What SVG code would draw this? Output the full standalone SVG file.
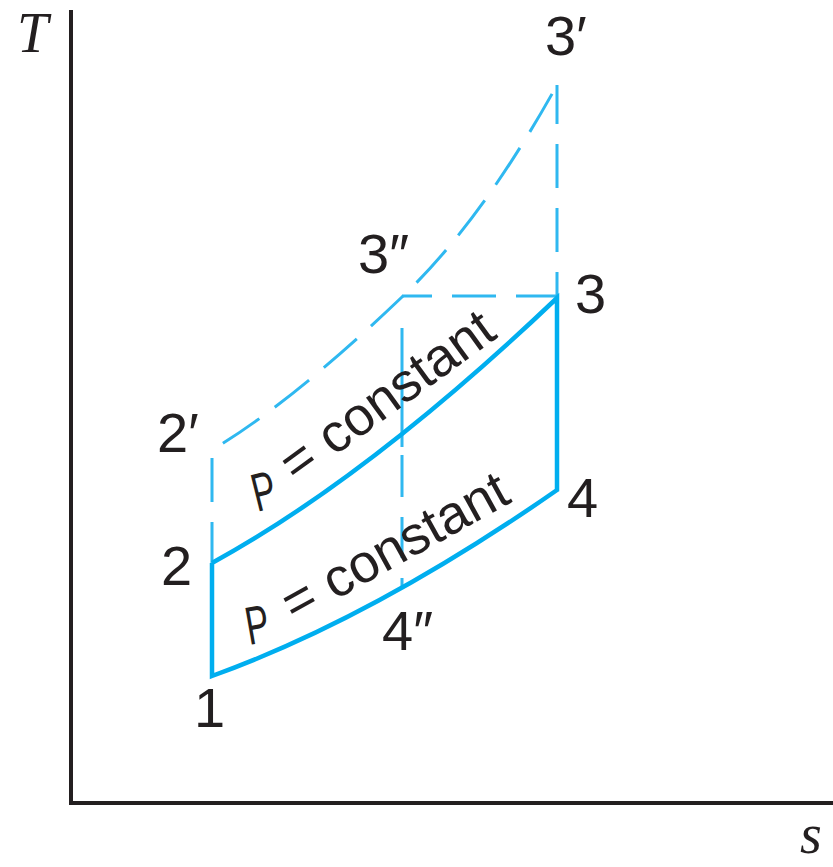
<svg xmlns="http://www.w3.org/2000/svg" width="833" height="867" viewBox="0 0 833 867">
<style>
.ax{stroke:#231f20;stroke-width:4;fill:none}
.solid{stroke:#00aeef;stroke-width:4.5;fill:none;stroke-linejoin:miter}
.dash{stroke:#2fb8f0;stroke-width:3;fill:none}
.lbl{font-family:"Liberation Sans",Arial,sans-serif;font-size:56px;fill:#231f20}
.ital{font-family:"Liberation Serif","Times New Roman",serif;font-style:italic;font-size:56px;fill:#231f20}
.pc{font-family:"Liberation Sans",Arial,sans-serif;font-size:54px;fill:#231f20}
</style>
<rect width="833" height="867" fill="#ffffff"/>
<g id="axes">
<path class="ax" d="M71,10 V803 H833"/>
<text class="ital" x="17" y="52">T</text>
<text class="ital" x="800" y="853">s</text>
</g>
<g id="connectors">
<path id="isobar-high-dashed" class="dash" d="M212,450 Q291,403 402,297 Q481,222 557,85" stroke-dasharray="44 19" stroke-dashoffset="50"/>
<path id="line-3p-3" class="dash" d="M557,85 V124 M557,144 V188 M557,208 V252 M557,272 V298"/>
<path id="line-3pp-3" class="dash" d="M402,296 H432 M452,296 H496 M516,296 H557"/>
<path id="line-3pp-4pp" class="dash" d="M402,328 V447 M402,455 V497 M402,517 V558 M402,578 V588"/>
<path id="line-2p-2" class="dash" d="M212,458 V502 M212,522 V563"/>
<path id="cycle" class="solid" d="M212,563 V676 Q373,618 557,490 V298 Q369,477 212,563"/>
</g>
<g id="text-upper">
<text class="pc" transform="translate(257,512) rotate(-14) scale(0.65,1)">P</text>
<text class="pc" transform="translate(296,484) rotate(-36)">= constant</text>
</g>
<g id="text-lower">
<text class="pc" transform="translate(249,645) rotate(-10) scale(0.65,1)">P</text>
<text class="pc" transform="translate(294,623) rotate(-29)">= constant</text>
</g>
<g id="node-1"><text class="lbl" x="194" y="727">1</text></g>
<g id="node-2"><text class="lbl" x="161" y="585">2</text></g>
<g id="node-2p"><text class="lbl" x="157" y="452">2′</text></g>
<g id="node-3"><text class="lbl" x="575" y="313">3</text></g>
<g id="node-3p"><text class="lbl" x="545" y="55">3′</text></g>
<g id="node-3pp"><text class="lbl" x="358" y="273">3″</text></g>
<g id="node-4"><text class="lbl" x="567" y="517">4</text></g>
<g id="node-4pp"><text class="lbl" x="382" y="650">4″</text></g>
</svg>
